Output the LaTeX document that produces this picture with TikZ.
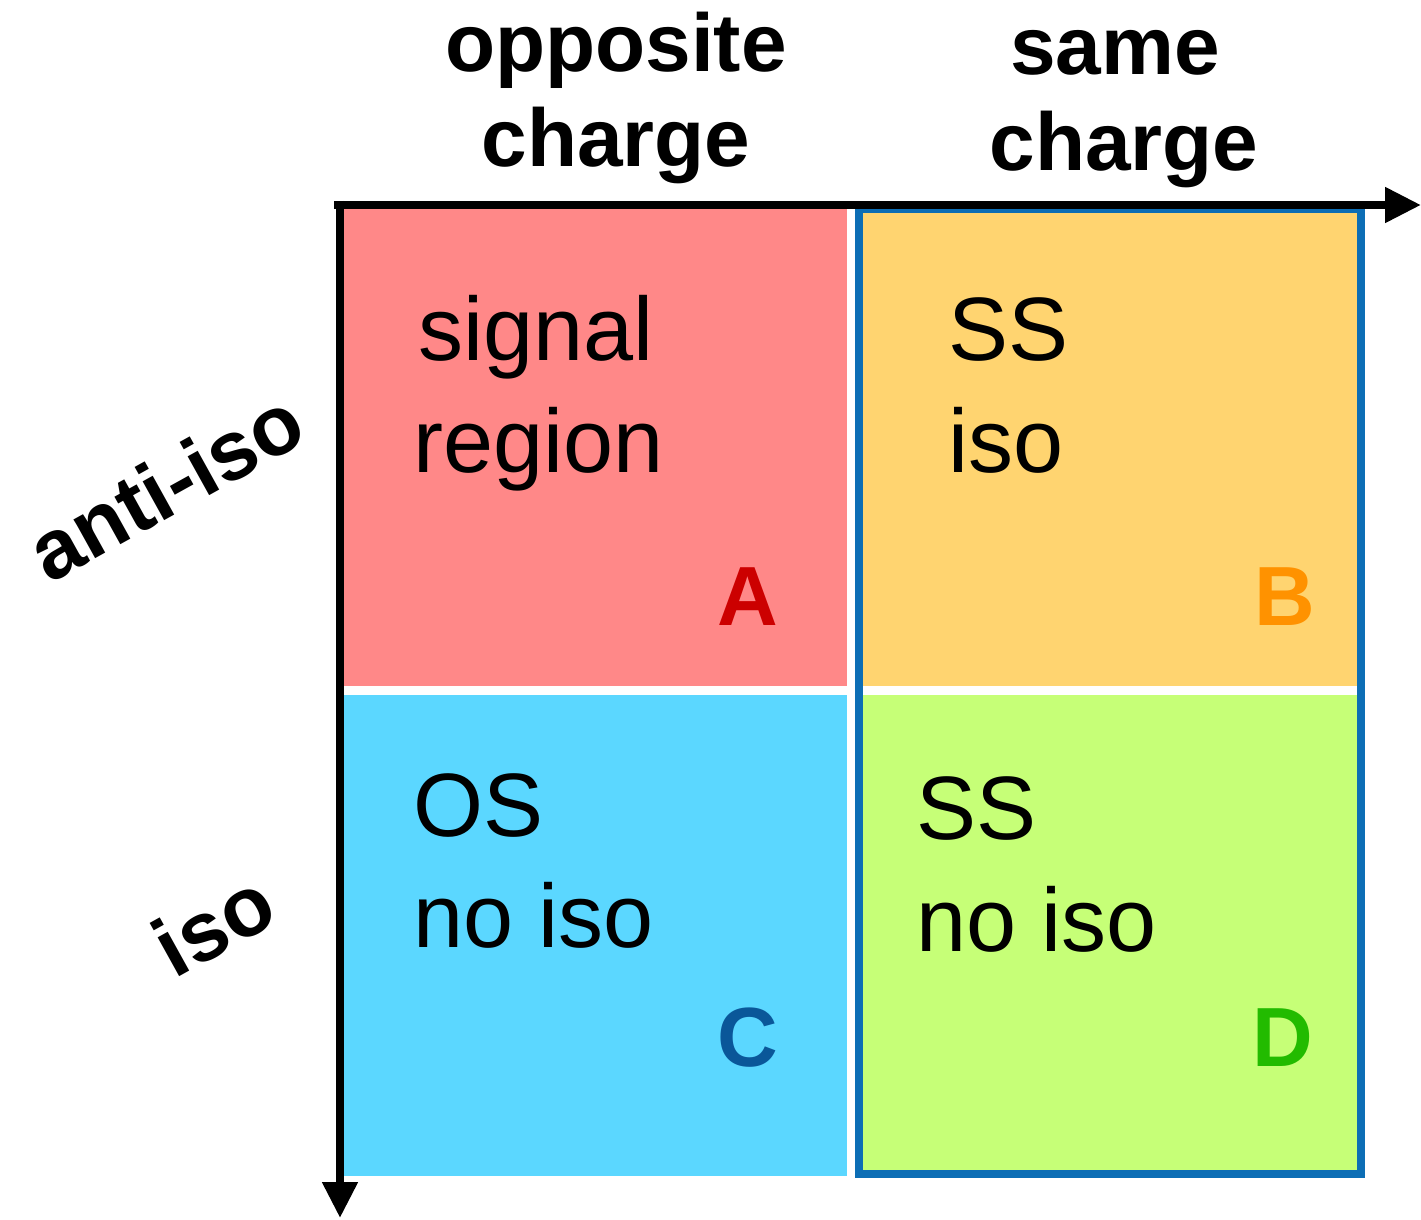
\documentclass[tikz,border=0pt]{standalone}
\usepackage{fontspec}
\setmainfont{Liberation Sans}
\usetikzlibrary{arrows.meta}
\definecolor{cred}{HTML}{FF8888}
\definecolor{corange}{HTML}{FFD470}
\definecolor{ccyan}{HTML}{5BD7FF}
\definecolor{cgreen}{HTML}{C6FF77}
\definecolor{coutline}{HTML}{0D6EB5}
\definecolor{lA}{HTML}{CC0000}
\definecolor{lB}{HTML}{FF9200}
\definecolor{lC}{HTML}{0A5799}
\definecolor{lD}{HTML}{22BB00}
\tikzset{
  head/.style={font=\fontsize{41}{47}\selectfont\bfseries, inner sep=0pt, anchor=base},
  side/.style={font=\fontsize{42}{48}\selectfont\bfseries, inner sep=0pt, anchor=base, rotate=29},
  body/.style={font=\fontsize{45}{52}\selectfont, inner sep=0pt, anchor=base west},
  letter/.style={font=\fontsize{42}{48}\selectfont\bfseries, inner sep=0pt, anchor=base},
  axis/.style={line width=4pt, -{Triangle[length=18pt,width=17pt]}},
}
\begin{document}
\begin{tikzpicture}[x=0.5pt,y=-0.5pt]
\useasboundingbox (0,0) rectangle (1421,1220);
% quadrants
\fill[cred] (337,205) rectangle (847,686);
\fill[ccyan] (337,695) rectangle (847,1176);
\fill[corange] (859,205) rectangle (1361,686);
\fill[cgreen] (859,695) rectangle (1361,1174);
\draw[coutline, line width=4pt] (859,209) rectangle (1361,1174);
% axes
\coordinate (hstart) at (334,205);
\coordinate (hend) at (1421,205);
\coordinate (vstart) at (340,201);
\coordinate (vend) at (340,1218);
\draw[axis] (hstart) -- (hend);
\draw[axis] (vstart) -- (vend);
% headings
\node[head] (h1a) at (616,72) {opposite};
\node[head] (h1b) at (616,167) {charge};
\node[head] (h2a) at (1115,75) {same};
\node[head] (h2b) at (1124,170) {charge};
\node[side] (r1) at (180,512) {anti-iso};
\node[side] (r2) at (228,950) {iso};
% body text
\node[body] (a1) at (418,360) {signal};
\node[body] (a2) at (413,472) {region};
\node[body] (b1) at (948,360) {SS};
\node[body] (b2) at (948,472) {iso};
\node[body] (c1) at (413,836) {OS};
\node[body] (c2) at (413,947) {no iso};
\node[body] (d1) at (916,839) {SS};
\node[body] (d2) at (916,951) {no iso};
% letters
\node[letter, text=lA] (LA) at (748,625) {A};
\node[letter, text=lB] (LB) at (1285,625) {B};
\node[letter, text=lC] (LC) at (748,1066) {C};
\node[letter, text=lD] (LD) at (1283,1066) {D};
\end{tikzpicture}
\end{document}
